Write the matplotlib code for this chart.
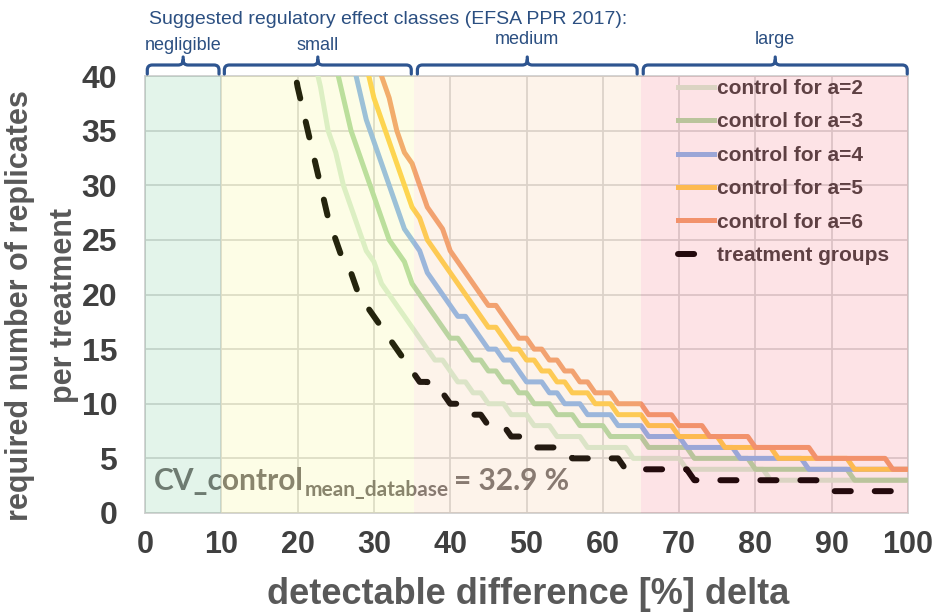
import numpy as np
import matplotlib
matplotlib.use("Agg")
import matplotlib.pyplot as plt
from matplotlib import font_manager as fm
from matplotlib.patches import Rectangle, PathPatch
from matplotlib.path import Path
import matplotlib.transforms as mtransforms


def font_ok(name):
    try:
        fm.findfont(fm.FontProperties(family=name), fallback_to_default=False)
        return True
    except Exception:
        return False


HAS_NARROW = font_ok("Liberation Sans Narrow")
NARROW = "Liberation Sans Narrow" if HAS_NARROW else "Liberation Sans"
plt.rcParams['font.family'] = ['Liberation Sans', 'DejaVu Sans']

# ---------------- data ----------------
NA = np.nan
deltas = list(range(19, 101))

control_a2 = [NA, NA, NA,
              42, 39, 35, 33, 30, 28, 26, 24, 23, 21, 20, 19, 18, 17, 16, 15, 14, 14, 13, 12,
              12, 11, 11, 10, 10, 10, 9, 9, 9, 8, 8, 8, 7, 7, 7, 7, 6, 6, 6, 6, 6, 6,
              5, 5, 5, 5, 5, 5, 5,
              4, 4, 4, 4, 4, 4, 4, 4, 4, 4, 4,
              3, 3, 3, 3, 3, 3, 3, 3, 3, 3, 3, 3, 3, 3, 3, 3, 3, 3, 3]
control_a3 = [NA, NA, NA, NA, NA, NA,
              41, 38, 35, 33, 31, 29, 27, 25, 24, 23, 21, 20, 19, 18, 17, 16, 16, 15, 14, 14,
              13, 13, 12, 12, 11, 11, 10, 10, 10, 9, 9, 9, 8, 8, 8, 8, 7, 7, 7, 7, 7,
              6, 6, 6, 6, 6, 6,
              5, 5, 5, 5, 5, 5, 5, 5,
              4, 4, 4, 4, 4, 4, 4, 4, 4, 4, 4, 4, 4,
              3, 3, 3, 3, 3, 3, 3, 3]
control_a4 = [NA, NA, NA, NA, NA, NA, NA, NA,
              42, 39, 36, 34, 32, 30, 28, 26, 25, 24, 22, 21, 20, 19, 18, 18, 17, 16, 15, 15,
              14, 14, 13, 12, 12, 12, 11, 11, 10, 10, 10, 9, 9, 9, 9, 8, 8, 8, 8,
              7, 7, 7, 7, 7,
              6, 6, 6, 6, 6, 6, 6,
              5, 5, 5, 5, 5, 5, 5, 5, 5,
              4, 4, 4, 4, 4, 4, 4, 4, 4, 4, 4, 4, 4, 4]
control_a5 = [NA, NA, NA, NA, NA, NA, NA, NA, NA, NA,
              41, 38, 36, 34, 32, 30, 28, 27, 25, 24, 23, 22, 21, 20, 19, 18, 17, 17, 16, 15,
              15, 14, 14, 13, 13, 12, 12, 11, 11, 11, 10, 10, 10, 9, 9, 9, 9, 8, 8, 8, 8,
              7, 7, 7, 7, 7, 7,
              6, 6, 6, 6, 6, 6, 6,
              5, 5, 5, 5, 5, 5, 5, 5, 5, 5,
              4, 4, 4, 4, 4, 4, 4, 4]
control_a6 = [NA, NA, NA, NA, NA, NA, NA, NA, NA, NA, NA,
              43, 40, 38, 35, 33, 32, 30, 28, 27, 26, 24, 23, 22, 21, 20, 19, 19, 18, 17, 16,
              16, 15, 15, 14, 14, 13, 13, 12, 12, 11, 11, 11, 10, 10, 10, 10, 9, 9, 9, 9,
              8, 8, 8, 8,
              7, 7, 7, 7, 7, 7,
              6, 6, 6, 6, 6, 6, 6, 6,
              5, 5, 5, 5, 5, 5, 5, 5, 5, 5,
              4, 4, 4]
treatment = [43, 39, 36, 33, 30, 27, 25, 23, 22, 20, 19, 18, 17, 16, 15, 14, 13, 12, 12,
             11, 11, 10, 10, 9, 9, 9, 8, 8, 8, 7, 7, 7, 6, 6, 6, 6, 6,
             5, 5, 5, 5, 5, 5, 5,
             4, 4, 4, 4, 4, 4, 4, 4, 4,
             3, 3, 3, 3, 3, 3, 3, 3, 3, 3, 3, 3, 3, 3, 3, 3, 3,
             2, 2, 2, 2, 2, 2, 2, 2, 2, 2, 2, 2]

series_labels = ["control for a=2", "control for a=3", "control for a=4",
                 "control for a=5", "control for a=6"]
series_values = [control_a2, control_a3, control_a4, control_a5, control_a6]
treatment_label = "treatment groups"

class_names = ["negligible", "small", "medium", "large"]
class_edges = [0, 10, 35.3, 65, 100]

x_ticks = [0, 10, 20, 30, 40, 50, 60, 70, 80, 90, 100]
y_ticks = [0, 5, 10, 15, 20, 25, 30, 35, 40]

# ---------------- styles ----------------
line_colors = ["#d8eed6", "#b1dba8", "#8cb8ee", "#ffcf4f", "#f2a070"]
band_colors = ["#44b673", "#f8f858", "#f2af73", "#f24458"]
band_alpha = 0.15
bracket_color = "#2e5590"
title_color = "#2b4f81"

W, H = 938, 613
fig = plt.figure(figsize=(W / 100, H / 100), dpi=100)
L, R, T, B = 145, 908, 76, 513
ax = fig.add_axes([L / W, 1 - B / H, (R - L) / W, (B - T) / H])
ax.set_xlim(0, 100)
ax.set_ylim(0, 40)

ax.set_xticks(x_ticks)
ax.set_yticks(y_ticks)
ax.set_xticklabels([str(v) for v in x_ticks], fontfamily=NARROW, fontweight='bold',
                   fontsize=26 if HAS_NARROW else 22, color='#404040')
ax.set_yticklabels([str(v) for v in y_ticks], fontweight='bold', fontsize=23, color='#404040')
ax.tick_params(axis='both', length=0)
ax.tick_params(axis='x', pad=12)
ax.tick_params(axis='y', pad=20)

ax.grid(True, color='#d9d9d9', lw=1.3)
ax.set_axisbelow(True)
for sp in ax.spines.values():
    sp.set_color('#d0d0d0')
    sp.set_linewidth(1.3)

# curves
handles = []
for vals, col, lab in zip(series_values, line_colors, series_labels):
    ln, = ax.plot(deltas, vals, color=col, lw=3.6, zorder=3, label=lab)
    handles.append(ln)
tl, = ax.plot(deltas, treatment, color='black', lw=4.3, zorder=4,
              dashes=(2.7, 4.0), dash_capstyle='round', label=treatment_label)
handles.append(tl)

leg = ax.legend(handles=handles, loc='upper left', bbox_to_anchor=(0.698, 0.993),
                frameon=False, borderpad=0, borderaxespad=0, handlelength=1.75,
                handletextpad=0.12, labelspacing=0.69,
                prop=dict(family='Liberation Sans', weight='bold', size=15))
for t in leg.get_texts():
    t.set_color('#454040')
leg.set_zorder(5)

# CV annotation
t1 = ax.text(1.2, 2.1, "CV_control", fontfamily='Lato', fontweight='bold', fontsize=21.5,
             color='#767171', va='baseline', ha='left', zorder=5)
t2 = ax.annotate("mean_database", xy=(1, 0), xycoords=t1, xytext=(0.5, -3.5),
                 textcoords='offset points', fontfamily='Lato', fontweight='bold',
                 fontsize=15, color='#767171', va='bottom', ha='left', zorder=5)
t3 = ax.annotate("= 32.9 %", xy=(1, 0), xycoords=t2, xytext=(3.5, 3.5),
                 textcoords='offset points', fontfamily='Lato', fontweight='bold',
                 fontsize=21.5, color='#767171', va='bottom', ha='left', zorder=5)

# semi-transparent class bands drawn over everything in the plot area
for i, c in enumerate(band_colors):
    x0, x1 = class_edges[i], class_edges[i + 1]
    ax.add_patch(Rectangle((x0, 0), x1 - x0, 40, facecolor=c, alpha=band_alpha,
                           edgecolor='none', zorder=10))

# axis labels
fig.text(42 / W, 1 - 306 / H, "required number of replicates\nper treatment", rotation=90,
         ha='center', va='center', multialignment='center', fontweight='bold',
         fontsize=22, color='#595959', linespacing=1.6)
fig.text(528 / W, 1 - 594 / H, "detectable difference [%] delta", ha='center', va='center',
         fontfamily=NARROW, fontweight='bold', fontsize=30 if HAS_NARROW else 26,
         color='#595959')

# brackets and class labels above the plot
top_disp = ax.transData.transform((0, 40))[1]
yb, yh, yt, r = top_disp + 2, top_disp + 11, top_disp + 19, 5
bracket_spans = [(0.3, 9.7), (10.4, 34.9), (35.7, 64.5), (65.3, 99.9)]
for (x0, x1) in bracket_spans:
    px0 = ax.transData.transform((x0, 40))[0]
    px1 = ax.transData.transform((x1, 40))[0]
    pc = (px0 + px1) / 2
    verts = [(px0, yb), (px0, yh - r), (px0, yh), (px0 + r, yh), (pc - r, yh), (pc, yh), (pc, yh + r), (pc, yt),
             (pc, yh + r), (pc, yh), (pc + r, yh), (px1 - r, yh), (px1, yh), (px1, yh - r), (px1, yb)]
    codes = [Path.MOVETO, Path.LINETO, Path.CURVE3, Path.CURVE3, Path.LINETO, Path.CURVE3, Path.CURVE3, Path.LINETO,
             Path.MOVETO, Path.CURVE3, Path.CURVE3, Path.LINETO, Path.CURVE3, Path.CURVE3, Path.LINETO]
    fig.add_artist(PathPatch(Path(verts, codes), transform=mtransforms.IdentityTransform(),
                             facecolor='none', edgecolor=bracket_color, lw=2.3,
                             capstyle='round', joinstyle='round'))

blend = mtransforms.blended_transform_factory(ax.transData, fig.transFigure)
label_x = [5, 22.6, 50.1, 82.6]
label_y = [45, 45, 40, 40]
for name, lx, ly in zip(class_names, label_x, label_y):
    fig.text(lx, 1 - ly / H, name, transform=blend, ha='center', va='center',
             fontsize=13, color=title_color)
fig.text(149 / W, 1 - 20 / H, "Suggested regulatory effect classes (EFSA PPR 2017):",
         ha='left', va='center', fontsize=14, color=title_color)

fig.savefig("out.png", dpi=100)
